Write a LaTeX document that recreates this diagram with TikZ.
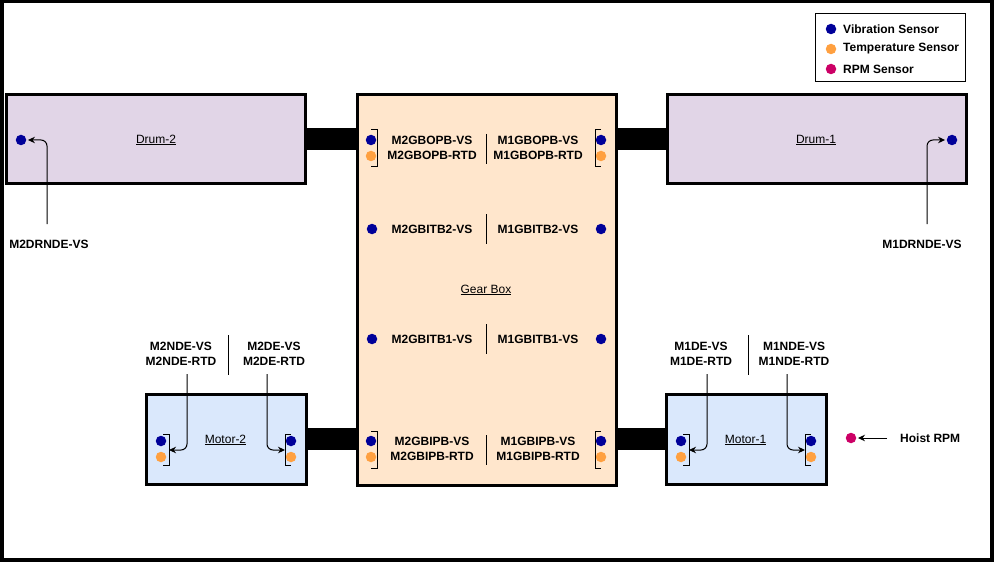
\documentclass[tikz,border=0pt]{standalone}
\usepackage{fontspec}
\setmainfont{Liberation Sans}
\usetikzlibrary{arrows.meta}
\definecolor{drumfill}{HTML}{E1D5E7}
\definecolor{gearfill}{HTML}{FFE6CC}
\definecolor{motorfill}{HTML}{DAE8FC}
\definecolor{vibcol}{HTML}{000099}
\definecolor{tempcol}{HTML}{FFA040}
\definecolor{rpmcol}{HTML}{CC0066}
\tikzset{
  unit/.style={draw,line width=3pt,fill=#1},
  shaft/.style={fill=black},
  sensor/.style={circle,fill=#1,inner sep=0pt,minimum size=10.5pt},
  tag/.style={font=\bfseries\fontsize{12}{15}\selectfont,align=center,inner sep=0pt},
  title/.style={font=\fontsize{12}{15}\selectfont,inner sep=0pt},
  lead/.style={-{Stealth[length=7pt,width=6.5pt]},line width=1pt,rounded corners=6pt},
  sep/.style={line width=1pt},
  bracket/.style={line width=1pt}
}
\begin{document}
\begin{tikzpicture}[x=1pt,y=-1pt]
  \useasboundingbox (0,0) rectangle (998,564);
  \draw[line width=4pt] (2,1.5) rectangle (992,559.5);

  % shafts
  \fill[shaft] (305,128) rectangle (358,150);
  \fill[shaft] (615,128) rectangle (668,150);
  \fill[shaft] (305,428) rectangle (358,450);
  \fill[shaft] (615,428) rectangle (667,450);

  % units
  \draw[unit=drumfill] (6.5,95) rectangle (305.5,183.5);
  \draw[unit=drumfill] (667,95) rectangle (966,183.5);
  \draw[unit=gearfill] (357,95) rectangle (616,485);
  \node[title] (drum2) at (156,140) {\underline{Drum-2}};
  \node[title] (drum1) at (816,140) {\underline{Drum-1}};
  \node[title] (gearbox) at (486,290) {\underline{Gear Box}};

  % drum sensors
  \node[sensor=vibcol] (m2drnde) at (21,140) {};
  \node[sensor=vibcol] (m1drnde) at (952,140) {};
  \node[tag] (m2drnde-tag) at (49,244) {M2DRNDE-VS};
  \node[tag] (m1drnde-tag) at (922,244) {M1DRNDE-VS};
  \coordinate (m2drnde-from) at (47,224);
  \coordinate (m1drnde-from) at (927,224);
  \draw[lead,shorten >=1.5pt] (m2drnde-from) |- (m2drnde);
  \draw[lead,shorten >=1.5pt] (m1drnde-from) |- (m1drnde);

  % gear box bearings with two sensors
  \foreach \yv/\code in {140/GBOPB, 441/GBIPB} {
    \node[sensor=vibcol] (M2\code-vs) at (371,\yv) {};
    \node[sensor=tempcol] (M2\code-rtd) at (371,\yv+16) {};
    \node[sensor=vibcol] (M1\code-vs) at (601,\yv) {};
    \node[sensor=tempcol] (M1\code-rtd) at (601,\yv+16) {};
    \draw[bracket] (371,\yv-10) -- (377,\yv-10) -- (377,\yv+27) -- (371,\yv+27);
    \draw[bracket] (601,\yv-10) -- (595,\yv-10) -- (595,\yv+27) -- (601,\yv+27);
    \node[tag] (M2\code-tag) at (432,\yv+8) {M2\code-VS\\M2\code-RTD};
    \node[tag] (M1\code-tag) at (538,\yv+8) {M1\code-VS\\M1\code-RTD};
    \draw[sep] (486,\yv-6) -- (486,\yv+24);
  }

  % gear box bearings with one sensor
  \foreach \yv/\code in {229/GBITB2, 339/GBITB1} {
    \node[sensor=vibcol] (M2\code-vs) at (372,\yv) {};
    \node[sensor=vibcol] (M1\code-vs) at (601,\yv) {};
    \node[tag] (M2\code-tag) at (432,\yv) {M2\code-VS};
    \node[tag] (M1\code-tag) at (538,\yv) {M1\code-VS};
    \draw[sep] (486,\yv-15) -- (486,\yv+15);
  }

  % motors
  \foreach \xo/\m/\ln/\rn in {0/2/NDE/DE, 520/1/DE/NDE} {
    \draw[unit=motorfill] (146+\xo,394) rectangle (306+\xo,484);
    \node[title] (motor\m) at (225.5+\xo,440) {\underline{Motor-\m}};
    \node[sensor=vibcol] (M\m\ln-vs) at (161+\xo,441) {};
    \node[sensor=tempcol] (M\m\ln-rtd) at (161+\xo,457) {};
    \node[sensor=vibcol] (M\m\rn-vs) at (291+\xo,441) {};
    \node[sensor=tempcol] (M\m\rn-rtd) at (291+\xo,457) {};
    \draw[bracket] (163+\xo,434) -- (169+\xo,434) -- (169+\xo,465) -- (163+\xo,465);
    \draw[bracket] (291+\xo,434) -- (285+\xo,434) -- (285+\xo,465) -- (291+\xo,465);
    \coordinate (M\m\ln-br) at (169+\xo,450);
    \coordinate (M\m\rn-br) at (285+\xo,450);
    \node[tag] (M\m\ln-tag) at (181+\xo,354) {M\m\ln-VS\\M\m\ln-RTD};
    \node[tag] (M\m\rn-tag) at (274+\xo,354) {M\m\rn-VS\\M\m\rn-RTD};
    \draw[sep] (228+\xo,335) -- (228+\xo,375);
    \coordinate (M\m\ln-from) at (187+\xo,374);
    \coordinate (M\m\rn-from) at (267+\xo,374);
    \draw[lead] (M\m\ln-from) |- (M\m\ln-br);
    \draw[lead] (M\m\rn-from) |- (M\m\rn-br);
  }

  % hoist rpm
  \node[sensor=rpmcol] (rpm) at (851,438) {};
  \node[tag,anchor=west] (rpm-tag) at (900,438) {Hoist RPM};
  \coordinate (rpm-from) at (887,438);
  \draw[lead,rounded corners=0pt,shorten >=1.5pt] (rpm-from) -- (rpm);

  % legend
  \draw[line width=1pt] (815,14) rectangle (965,82);
  \foreach \yv/\col/\txt in {29/vibcol/Vibration Sensor, 49/tempcol/Temperature Sensor, 69/rpmcol/RPM Sensor} {
    \node[sensor=\col] at (831,\yv) {};
    \node[tag,anchor=west] at (843,\yv) {\txt};
  }
\end{tikzpicture}
\end{document}
